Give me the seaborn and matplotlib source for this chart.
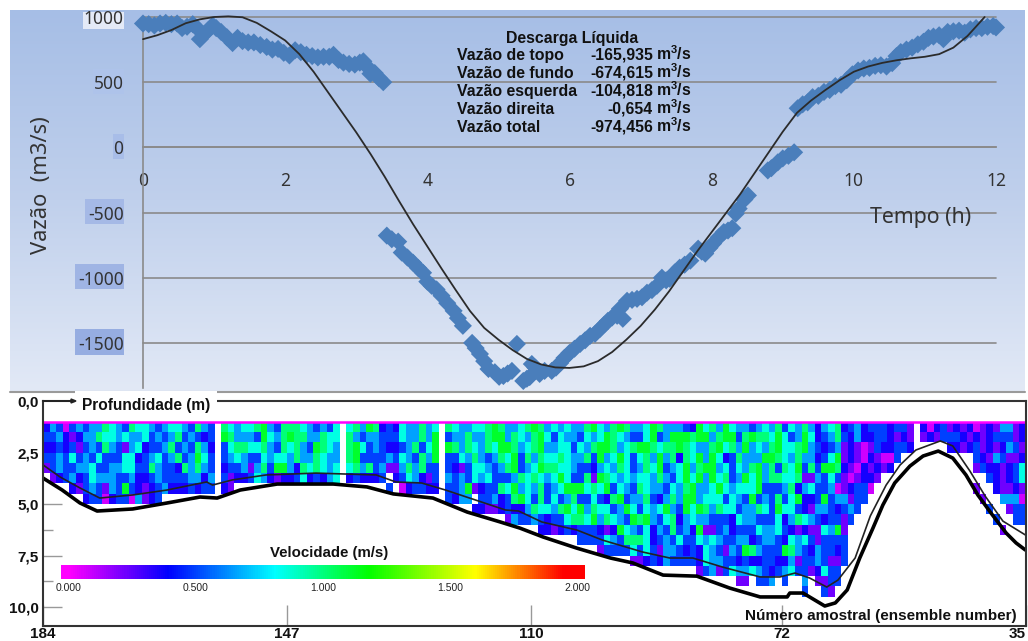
import numpy as np
import pandas as pd
import seaborn as sns
import matplotlib.pyplot as plt
from matplotlib.colors import LinearSegmentedColormap
from matplotlib.patches import Rectangle

# discharge points (hours, m3/s)
flow_hours = [0, .08, .16, .24, .32, .4, .48, .55, .62, .7, .76, .8, .86, .92, .98, 1.03, 1.1, 1.18, 1.26, 1.33,
              1.4, 1.48, 1.56, 1.65, 1.74, 1.82, 1.9, 1.98, 2.06, 2.14, 2.22, 2.3, 2.38, 2.46, 2.54, 2.62, 2.68, 2.75,
              2.82, 2.9, 2.98, 3.05, 3.1, 3.15, 3.2, 3.26, 3.32, 3.38,
              3.43, 3.5, 3.59, 3.64, 3.72, 3.8, 3.87, 3.94, 4.0, 4.06, 4.13, 4.2, 4.28, 4.37, 4.43, 4.5, 4.63, 4.68,
              4.74, 4.8, 4.86, 4.95, 5.01, 5.07, 5.13, 5.19, 5.26, 5.35, 5.4, 5.44, 5.47, 5.52, 5.58, 5.65, 5.75, 5.81,
              5.87, 5.93, 6.0, 6.07, 6.15, 6.22, 6.29, 6.36, 6.43, 6.49, 6.54, 6.6, 6.67, 6.71, 6.75, 6.81, 6.88, 6.95,
              7.02, 7.09, 7.16, 7.23, 7.3, 7.36, 7.41, 7.48, 7.55, 7.62, 7.7, 7.81, 7.86, 7.91, 7.97, 8.02, 8.1, 8.17,
              8.23, 8.29, 8.34, 8.38, 8.46, 8.51, 8.79, 8.84, 8.93, 9.0, 9.08, 9.16,
              9.21, 9.28, 9.35, 9.42, 9.5, 9.58, 9.66, 9.74, 9.82, 9.9, 9.98, 10.06, 10.14, 10.22, 10.3, 10.38, 10.46,
              10.54, 10.6, 10.66, 10.74, 10.82, 10.9, 10.98, 11.05, 11.12, 11.2, 11.26, 11.32, 11.4, 11.48, 11.56,
              11.64, 11.72, 11.8, 11.88, 11.96, 12.0]
flow_values = [950, 945, 935, 950, 955, 945, 950, 915, 925, 945, 915, 830, 870, 900, 935, 915, 885, 845, 800, 840,
               815, 805, 805, 785, 770, 750, 755, 725, 705, 745, 730, 710, 700, 690, 695, 695, 710, 670,
               650, 640, 635, 650, 660, 620, 565, 570, 530, 500,
               -677, -705, -723, -807, -845, -885, -925, -962, -1030, -1062, -1090, -1138, -1195, -1254, -1310, -1369,
               -1500, -1540, -1585, -1640, -1700, -1725, -1760, -1754, -1735, -1715, -1508, -1792, -1775, -1762, -1662,
               -1690, -1738, -1715, -1715, -1690, -1654, -1615, -1577, -1545, -1508, -1480, -1446, -1430, -1392, -1360,
               -1331, -1305, -1292, -1238, -1315, -1177, -1170, -1162, -1150, -1115, -1095, -1062, -1000, -1020, -1008,
               -960, -923, -900, -869, -777, -800, -815, -770, -738, -690, -650, -638, -620, -508, -470, -400, -369,
               -177, -160, -115, -85, -65, -38,
               300, 330, 345, 385, 395, 425, 440, 470, 480, 515, 560, 590, 605, 610, 625, 630, 620,
               646, 700, 731, 750, 765, 790, 810, 840, 850, 860, 830, 885, 890, 895, 880,
               905, 915, 915, 925, 930, 920]

curve_hours = [0, .2, .4, .6, .8, 1.0, 1.2, 1.4, 1.6, 1.8, 2.0, 2.2, 2.4, 2.6, 2.8, 3.0, 3.2, 3.4, 3.6, 3.8, 4.0, 4.2,
               4.4, 4.6, 4.8, 5.0, 5.2, 5.4, 5.6, 5.8, 6.0, 6.2, 6.4, 6.6, 6.8, 7.0, 7.2, 7.4, 7.6, 7.8, 8.0, 8.2, 8.4,
               8.6, 8.8, 9.0, 9.2, 9.4, 9.6, 9.8, 10.0, 10.2, 10.4, 10.6, 10.8, 11.0, 11.2, 11.4, 11.6, 11.8, 11.84]
curve_values = [830, 860, 900, 952, 982, 1000, 1005, 998, 955, 890, 820, 715, 580, 425, 270, 115, -50, -225, -410, -590,
                -760, -930, -1095, -1255, -1385, -1475, -1555, -1623, -1665, -1688, -1692, -1680, -1640, -1570, -1475,
                -1370, -1245, -1105, -950, -795, -650, -505, -360, -200, -40, 120, 265, 360, 440, 515, 580, 620, 648,
                668, 683, 695, 715, 765, 855, 975, 1000]

flow_ticks = [-1500, -1000, -500, 0, 500, 1000]
hour_ticks = [0, 2, 4, 6, 8, 10, 12]

summary_names = ["Vazão de topo", "Vazão de fundo", "Vazão esquerda", "Vazão direita", "Vazão total"]
summary_values = ["-165,935", "-674,615", "-104,818", "-0,654", "-974,456"]

# bottom of the section: ensemble number vs depth (m)
thick_ens = [184, 181.1, 178.4, 175.8, 170.4, 165.2, 160.2, 157.6, 154.1, 148.5, 140, 134.9, 130.9, 124.9, 119.7,
             114.7, 111.7, 108.2, 103.1, 98, 94.6, 90, 84.9, 79.9, 75.3, 71.2, 70.8, 68.8, 65.5, 63.9, 62.1, 60.2,
             58.2, 56.7, 54.9, 52.6, 50.6, 48.3, 46.1, 44.1, 42.3, 40.3, 38.0, 36.5, 35.1]
thick_depth = [3.74, 4.32, 4.95, 5.34, 5.24, 4.95, 4.66, 4.71, 4.32, 4.03, 4.03, 4.17, 4.51, 4.71, 5.39, 5.87, 6.17,
               6.6, 7.14, 7.62, 7.86, 8.45, 8.5, 9.08, 9.51, 9.51, 9.32, 9.32, 9.95, 9.8, 9.17, 7.62, 6.17, 5.05, 3.98,
               3.16, 2.67, 2.43, 2.77, 3.59, 4.56, 5.44, 6.41, 6.89, 7.23]
thin_ens = [184, 181.4, 178.4, 175.4, 170.4, 165.2, 159.2, 158.3, 155.3, 150.2, 142.6, 133.5, 130.5, 126.6, 123,
            118.4, 113.9, 111.9, 108.4, 103.1, 99.2, 93.1, 89, 85.5, 81, 75.3, 72.3, 70, 67.8, 65.2, 63.5, 60.9, 58.6,
            56.2, 54.1, 51.7, 48, 46.1, 43.5, 41.2, 38.5, 35.1]
thin_depth = [3.1, 3.69, 4.22, 4.71, 4.56, 4.32, 3.93, 4.08, 3.83, 3.59, 3.5, 3.59, 3.93, 3.98, 4.32, 4.81, 5.29, 5.34,
              5.87, 6.26, 6.75, 7.33, 7.62, 7.62, 8.06, 8.54, 8.54, 8.35, 8.59, 9.03, 8.69, 7.62, 5.58, 4.08, 3.11,
              2.38, 1.94, 2.18, 3.4, 4.61, 5.83, 6.5]

ens_ticks = [184, 147, 110, 72, 35]
depth_ticks = [0, 2.5, 5, 7.5, 10]
depth_labels = ["0,0", "2,5", "5,0", "7,5", "10,0"]
speed_ticks = [0, .5, 1, 1.5, 2]
speed_labels = ["0.000", "0.500", "1.000", "1.500", "2.000"]

# velocity classes per cell, a letter stands for one read colour, "." is no data
speed_codes = {"m": .08, "p": .22, "v": .36, "b": .5, "a": .66, "c": .85, "t": 1.0, "g": 1.12}
block_a = ["vabmbabaatcabtccabaccabtab.tca",
           "bbavpvaatccacaacbabatbabvb.gta",
           "vvbvbpbabtabpacvbbatbabtav.bct",
           "bbabcbabcbbbccvbacbatbagcb.bac",
           "pbabbaacbbaaccbbtabbvtatab.vbb",
           ".pvbavbcaaabbavvbabbbbaava.bpv",
           "....vpbabpabgbvpvbavvvbvbb.vp.",
           "......vbbmvbbmapvb"]
block_b = ["cctgabtttcababc.ctagtvbvcaatac",
           "aabgcatgttaatcc.tabaabbbcaatag",
           "tcctabtctabgtca.tgcbabvvbatbcg",
           "abbcaccataatcaa.tgbbbbabcabtag",
           "apatbggavtctcac.ctatbappatatbb",
           "vbcavpvvbcvbvac.vbvvvb.vbcavpb",
           "......................b.mvbbvv"]
block_c = [".tcaacctgtaactgtacacaatgcatgta",
           ".baataatggatcatgcbcaabcacgtcab",
           ".gtatcatcggtactgaaccbcatggtact",
           ".bbcatabatcgbtatcctcaatbgacgcb",
           ".bvpbccabatgbacgttccabbvacatcb",
           ".ababcacbbbatctcacgcbbtpgtcaca",
           ".bbagpvbbtcgacatbacgggctcgbcab",
           ".bvaa.bbavbtgcbtbcbatbbcbvtgba",
           ".....vvppvbvvatccatgcgatccbagc",
           "..........pabbabvbbcttcgatcabg",
           "...............vvpvbvbbbvpvgca",
           ".....................bbbbcabtt",
           "........................pbbbbc",
           ".............................p"]
block_d = ["acgtaaabvgctagcaabacatbcatavac",
           "bcgbagggtggatggbtgttcgcbagcvba",
           "ggtcttgtcaatgctagacatgcctgabvb",
           "ctagatvtcgagcvbtaaaggtcataavbc",
           "atcgbacgatggacbcatgatbtcgbtbgg",
           "ccatabcgcgagctbagcgattcctppabc",
           "tcaabcatgaacgcacccgbbbatvacbba",
           "atbvataggacccbcabgbabtbcgvvbgb",
           "bcacgabgcgtatccbaatcbgccbvpaab",
           "tgabctvacaabbbvcaabbbcvatcabvb",
           "bcvabtbavgppbavbbbcaacbvpvppca",
           "tcvbabcbbcacabbaavbaabvcacbpbb",
           "bcbpaabvbvcabpabgtabbbgtabvabb",
           "pvbvabbbbvcaabbvbvvbbvvapbbabp",
           ".........pbapbcaacabvbacbbpvcb",
           "...............pp.bba.b..a.ppb",
           ".........................b..bp"]
block_e = ["tvbavbbbvbbp.vmvbpvpvmpvpaapv",
           "tbvavvbbvpvp.pvpbbbvpvpvbbbpv",
           "apvpmpbvvbbv.....vvpvbpvpvabp",
           "gpvpmvpmmb...........bvpabppv",
           "tvpmvpvpv............pbvvpvbc",
           "bpmpvvp................bvpvbc",
           "mpvbbm...............p..vppvp",
           "aapbb.................p..aaam",
           "vbab...................b..pbb",
           "bpb.....................b..bb",
           "gp.......................p...",
           "bb", "vb", "pb", "b", "b"]

sns.set_theme(style="white")
plt.rcParams['font.family'] = ['Liberation Sans', 'DejaVu Sans']
plt.rcParams['axes.unicode_minus'] = False
plt.rcParams['mathtext.fontset'] = 'custom'
plt.rcParams['mathtext.bf'] = 'Liberation Sans:bold'
plt.rcParams['mathtext.rm'] = 'Liberation Sans:bold'


def rect(x0, y0, x1, y1):
    # pixels of the 1028x641 picture to a figure rectangle
    return [x0 / 1028, 1 - y1 / 641, (x1 - x0) / 1028, (y1 - y0) / 641]


def build_grid():
    widths = [30, 30, 30, 30, 29]
    blocks = [block_a, block_b, block_c, block_d, block_e]
    rows = []
    for r in range(17):
        line = ""
        for block, w in zip(blocks, widths):
            part = block[r] if r < len(block) else ""
            line += part.ljust(w, ".")[:w]
        rows.append([speed_codes.get(ch, np.nan) for ch in line])
    # two empty rows on top, the ADCP does not see the first metre, then rows below the data
    empty = [[np.nan] * 149]
    return pd.DataFrame(empty * 2 + rows + empty * 3)


fig = plt.figure(figsize=(10.28, 6.41), dpi=100, facecolor="white")

# background of the Excel chart
bg = fig.add_axes([0, 0, 1, 1])
bg_cmap = LinearSegmentedColormap.from_list("bg", ["#A6BEE6", "#C0D0EC", "#E2E9F6"])
bg.imshow(np.linspace(0, 1, 200).reshape(-1, 1), cmap=bg_cmap, aspect="auto", extent=(10, 1025, 391, 10))
for x0, y0, w, h, col in [(83, 12, 41, 17, "#E4EAF7"), (93, 69, 31, 25, "#AEC3EA"), (113, 134, 11, 25, "#A8BDE8"),
                          (85, 199, 39, 25, "#A5B9E6"), (75, 264, 49, 25, "#9FB4E4"), (75, 329, 49, 26, "#96ADE1")]:
    bg.add_patch(Rectangle((x0, y0), w, h, color=col, lw=0))
bg.plot([10, 1025], [391.5, 391.5], color="#9A9A9A", lw=1.5)
bg.set_xlim(0, 1028)
bg.set_ylim(641, 0)
bg.axis("off")

# top chart
ax = fig.add_axes(rect(143, 17, 996, 388))
ax.patch.set_visible(False)
ax.set_axisbelow(True)
ax.grid(axis="y", color="#8A8A8A", lw=1.2, clip_on=False)
sns.scatterplot(x=flow_hours, y=flow_values, ax=ax, marker="D", s=85, color="#4A7EBB", edgecolor="none", clip_on=False,
                zorder=3)
sns.lineplot(x=curve_hours, y=curve_values, ax=ax, color="#2B2B2B", lw=1.3, sort=False, estimator=None, zorder=4,
             clip_on=False)
ax.set_xlim(0, 12)
ax.set_ylim(-1846, 1000)
ax.set_xticks(hour_ticks)
ax.set_yticks(flow_ticks)
for s in ["top", "right"]:
    ax.spines[s].set_visible(False)
ax.spines["bottom"].set_position(("data", 0))
ax.spines["bottom"].set_color("#8A8A8A")
ax.spines["left"].set_color("#8A8A8A")
ax.spines["bottom"].set_linewidth(1.2)
ax.spines["left"].set_linewidth(1.2)
ax.tick_params(axis="x", length=6, width=1, color="#8A8A8A", direction="out", pad=12, labelcolor="#333333")
ax.tick_params(axis="y", length=0, pad=14, labelcolor="#333333")
for lab in ax.get_xticklabels() + ax.get_yticklabels():
    lab.set_family("Noto Sans")
    lab.set_fontsize(12.5)
fig.text(42 / 1028, 1 - 185 / 641, "Vazão  (m3/s)", rotation=90, family="Noto Sans", fontsize=15.8, color="#333333",
         ha="center", va="center")
fig.text(921 / 1028, 1 - 218 / 641, "Tempo (h)", family="Noto Sans", fontsize=15.3, color="#333333", ha="center",
         va="center")

# discharge summary
fig.text(572 / 1028, 1 - 43 / 641, "Descarga Líquida", weight="bold", fontsize=11.4, ha="center", va="baseline",
         color="#111111")
for i, (name, value) in enumerate(zip(summary_names, summary_values)):
    y = 1 - (60 + 18 * i) / 641
    fig.text(457 / 1028, y, name, weight="bold", fontsize=11.4, va="baseline", color="#111111")
    fig.text(653 / 1028, y, value, weight="bold", fontsize=11.4, ha="right", va="baseline", color="#111111")
    fig.text(656 / 1028, y, r"m$\mathbf{^3}$/s", weight="bold", fontsize=11.4, va="baseline", color="#111111")

# bottom chart, velocity section
vmin, vmax = -0.03, 2.03
nodes = [(0, "#FF00FF"), (.39, "#0000FF"), (.81, "#00FFFF"), (1.18, "#00FF00"), (1.6, "#FFFF00"), (1.95, "#FF0000"),
         (2.03, "#FF0000")]
speed_cmap = LinearSegmentedColormap.from_list(
    "speed", [(0, "#FF00FF")] + [((v - vmin) / (vmax - vmin), c) for v, c in nodes])

sec = fig.add_axes(rect(43, 401, 1026, 626))
cax = fig.add_axes(rect(61, 565, 585, 579))
sns.heatmap(build_grid(), ax=sec, cmap=speed_cmap, vmin=vmin, vmax=vmax, cbar_ax=cax,
            cbar_kws={"orientation": "horizontal"}, xticklabels=False, yticklabels=False)
sns.lineplot(x=[184 - e for e in thin_ens], y=[d * 2 for d in thin_depth], ax=sec, color="#222222", lw=1.2, sort=False,
             estimator=None)
sns.lineplot(x=[184 - e for e in thick_ens], y=[d * 2 for d in thick_depth], ax=sec, color="black", lw=2.6, sort=False,
             estimator=None)
sec.plot([0, 149], [2, 2], color="#FF00FF", lw=1.8)
sec.set_xlim(0, 149)
sec.set_ylim(21.84, 0)
sec.set_xlabel("")
sec.set_ylabel("")
for s in sec.spines.values():
    s.set_visible(True)
    s.set_color("#333333")
    s.set_linewidth(1.5)
sec.set_xticks([184 - e for e in ens_ticks])
sec.set_xticklabels(ens_ticks, weight="bold", fontsize=11, color="#111111")
sec.get_xticklabels()[-1].set_ha("right")
sec.set_yticks([d * 2 for d in depth_ticks])
sec.set_yticklabels(depth_labels, weight="bold", fontsize=11, color="#111111")
sec.set_yticks([12.5, 17.5], minor=True)
sec.tick_params(axis="x", direction="in", length=15, width=1, color="#999999", pad=1, bottom=True)
sec.tick_params(axis="y", which="major", direction="in", length=14, width=1, color="#999999", pad=3, left=True)
sec.tick_params(axis="y", which="minor", direction="in", length=7, width=1, color="#999999", left=True)
for t in sec.yaxis.get_major_ticks()[:2]:
    t.tick1line.set_visible(False)
sec.text(0.0395, 0.982, "Profundidade (m)", transform=sec.transAxes, weight="bold", fontsize=11.2, va="center",
         color="#111111", bbox=dict(facecolor="white", edgecolor="none", pad=5), zorder=6)
fig.add_artist(plt.Line2D([43 / 1028, 71 / 1028], [1 - 401 / 641] * 2, color="#222222", lw=1.3, zorder=8))
fig.add_artist(plt.Polygon([[71 / 1028, 1 - 399 / 641], [76 / 1028, 1 - 401 / 641], [71 / 1028, 1 - 403 / 641]],
                           closed=True, color="#222222", zorder=8))
fig.text(1017 / 1028, 1 - 616 / 641, "Número amostral (ensemble number)", weight="bold", fontsize=10.95, ha="right",
         va="center", color="#111111")
fig.text(329 / 1028, 1 - 553 / 641, "Velocidade (m/s)", weight="bold", fontsize=10.8, ha="center", va="center",
         color="#111111")

# colour scale
cax.set_xticks(speed_ticks)
cax.set_xticklabels(speed_labels, fontsize=7.5, color="#222222")
cax.tick_params(axis="x", length=0, pad=3)
for s in cax.spines.values():
    s.set_visible(False)

fig.savefig("out.png", dpi=100)
